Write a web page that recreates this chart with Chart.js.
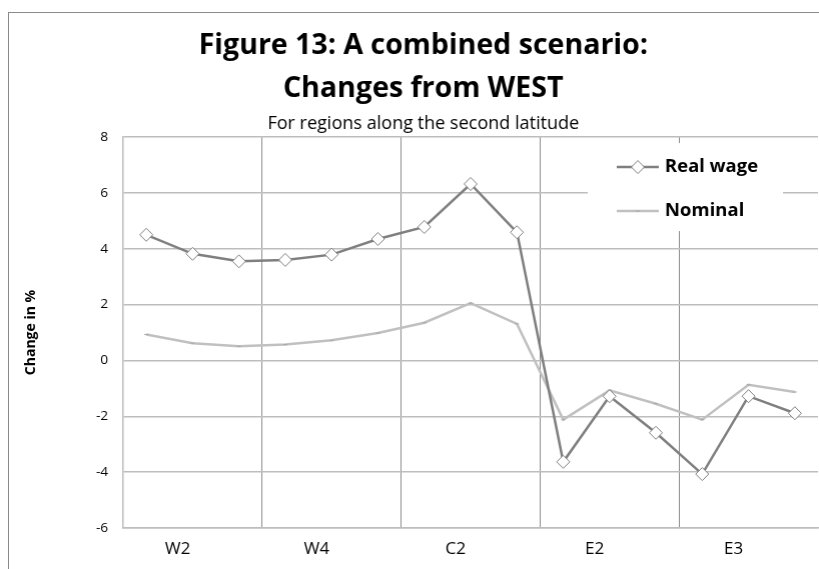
<!DOCTYPE html>
<html><head><meta charset="utf-8">
<script src="https://cdn.jsdelivr.net/npm/chart.js@4/dist/chart.umd.min.js"></script>
<style>
html,body{margin:0;padding:0;background:#fff;overflow:hidden}
#wrap{position:relative;width:900px;height:569px;overflow:hidden}
#frame{position:absolute;left:8px;top:12px;width:900px;height:700px;border:1px solid #8a8a8a;box-sizing:border-box}
canvas{position:absolute;left:0;top:0}
</style></head><body>
<div id="wrap"><div id="frame"></div><canvas id="c" width="819" height="569"></canvas></div>
<script>
// categories (15 regions); only every third carries a printed label
const categories = ['', 'W2', '', '', 'W4', '', '', 'C2', '', '', 'E2', '', '', 'E3', ''];
const realWage = [4.50, 3.82, 3.55, 3.60, 3.79, 4.35, 4.78, 6.32, 4.59, -3.63, -1.28, -2.59, -4.07, -1.28, -1.89];
const nominal  = [0.93, 0.62, 0.51, 0.57, 0.72, 0.98, 1.35, 2.05, 1.31, -2.12, -1.07, -1.55, -2.12, -0.87, -1.13];
const yTicks = [-6, -4, -2, 0, 2, 4, 6, 8];

const FONT = '"Open Sans", sans-serif';
const TARGET_RIGHT = 817;

const fixPad = {
  id: 'fixPad',
  beforeLayout(chart) {
    Object.values(chart.scales).forEach(s => {
      s.getPadding = () => ({left: 0, top: 0, right: 0, bottom: 0});
    });
  }
};

const boxLegend = {
  id: 'boxLegend',
  afterDatasetsDraw(chart) {
    const ctx = chart.ctx;
    const a = chart.chartArea;
    const bx = a.right - 230, by = a.top + 6, bw = 195, bh = 88;
    ctx.save();
    ctx.fillStyle = '#ffffff';
    ctx.fillRect(bx, by, bw, bh);
    chart.data.datasets.forEach((ds, i) => {
      const y = by + 24 + i * 44;
      const x0 = bx + 29, x1 = bx + 71;
      ctx.strokeStyle = ds.borderColor;
      ctx.lineWidth = ds.borderWidth;
      ctx.beginPath(); ctx.moveTo(x0, y); ctx.lineTo(x1, y); ctx.stroke();
      if (ds.pointStyle === 'rectRot') {
        ctx.fillStyle = ds.pointBackgroundColor;
        ctx.strokeStyle = ds.pointBorderColor;
        ctx.lineWidth = ds.pointBorderWidth;
        Chart.helpers.drawPoint(ctx, {pointStyle: 'rectRot', radius: ds.pointRadius, borderWidth: ds.pointBorderWidth}, (x0 + x1) / 2, y);
      } else {
        ctx.strokeStyle = ds.pointBorderColor;
        ctx.lineWidth = 1;
        ctx.beginPath(); ctx.moveTo((x0 + x1) / 2 - 2, y); ctx.lineTo((x0 + x1) / 2 + 2, y); ctx.stroke();
      }
      ctx.fillStyle = '#000';
      ctx.font = 'bold 18.5px ' + FONT;
      ctx.textBaseline = 'middle';
      ctx.textAlign = 'left';
      ctx.fillText(ds.label, x1 + 6, y);
    });
    ctx.restore();
  }
};

const chart = new Chart(document.getElementById('c'), {
  type: 'line',
  data: {
    labels: categories,
    datasets: [
      {
        label: 'Real wage',
        data: realWage,
        borderColor: '#7f7f7f',
        borderWidth: 2.5,
        pointStyle: 'rectRot',
        pointRadius: 6.5,
        pointBackgroundColor: '#ffffff',
        pointBorderColor: '#7f7f7f',
        pointBorderWidth: 1,
        tension: 0
      },
      {
        label: 'Nominal',
        data: nominal,
        borderColor: '#c0c0c0',
        borderWidth: 2.5,
        pointStyle: 'line',
        pointRadius: 2,
        pointBackgroundColor: '#a8a8a8',
        pointBorderColor: '#a8a8a8',
        pointBorderWidth: 1,
        tension: 0
      }
    ]
  },
  options: {
    responsive: false,
    maintainAspectRatio: false,
    animation: false,
    devicePixelRatio: 1,
    layout: {padding: {left: 23, right: 2, top: 0, bottom: 0}},
    plugins: {
      legend: {display: false},
      tooltip: {enabled: false},
      title: {
        display: true,
        text: ['Figure 13: A combined scenario:', 'Changes from WEST'],
        color: '#000',
        font: {family: FONT, size: 28.5, weight: 'bold', lineHeight: 1.51},
        padding: {top: 24.5, bottom: 2.7}
      },
      subtitle: {
        display: true,
        text: 'For regions along the second latitude',
        color: '#000',
        font: {family: FONT, size: 18, weight: 'normal', lineHeight: 1.2},
        padding: {top: 0, bottom: 2.2}
      }
    },
    scales: {
      x: {
        type: 'category',
        offset: true,
        grid: {
          display: true,
          offset: true,
          drawTicks: false,
          color: ctx => (ctx.index % 3 === 0 ? '#8c8c8c' : 'rgba(0,0,0,0)'),
          lineWidth: 1
        },
        border: {display: true, color: '#bdbdbd', width: 1.5},
        ticks: {
          autoSkip: false,
          maxRotation: 0,
          labelOffset: -15,
          padding: 11,
          color: '#000',
          font: {family: FONT, size: 17}
        },
        afterFit: s => { s.height = 41; s.paddingLeft = 0; s.paddingRight = 0; }
      },
      y: {
        min: -6,
        max: 8,
        afterBuildTicks: s => { s.ticks = yTicks.map(v => ({value: v})); },
        grid: {color: '#bdbdbd', lineWidth: 1.5, drawTicks: false},
        border: {display: true, color: '#bdbdbd', width: 1.5},
        ticks: {
          padding: 15,
          color: '#000',
          font: {family: FONT, size: 13.5}
        },
        title: {
          display: true,
          text: 'Change in %',
          color: '#000',
          font: {family: FONT, size: 14, weight: 'bold', lineHeight: 1.2},
          padding: {top: 0, bottom: 0}
        },
        afterFit: s => { s.width = 100; s.paddingTop = 0; s.paddingBottom = 0; }
      }
    }
  },
  plugins: [fixPad, boxLegend]
});

// if the plot area still stops short of the reference's right edge, widen the canvas by the gap
const dx = TARGET_RIGHT - chart.chartArea.right;
if (Math.abs(dx) > 0.5) {
  chart.resize(819 + dx, 569);
  chart.update();
}
</script>
</body></html>
